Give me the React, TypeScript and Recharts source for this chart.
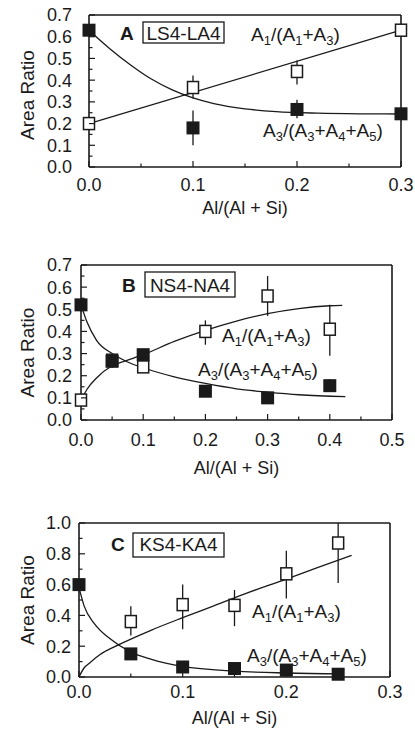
import React from 'react';
import { ComposedChart, Line, Scatter, XAxis, YAxis, ErrorBar } from 'recharts';

const FONT = '"Liberation Sans", Arial, Helvetica, sans-serif';
const INK = '#1a1a1a';

// ---- panel A: LS4-LA4 ----
const aX = [0, 0.1, 0.2, 0.3];
const aOpen = [0.2, 0.366, 0.44, 0.63];
const aOpenErr = [[0, 0], [0.05, 0.055], [0.06, 0.05], [0, 0]];
const aFilled = [0.63, 0.18, 0.265, 0.245];
const aFilledErr = [[0, 0], [0.08, 0.08], [0.04, 0.045], [0, 0]];
const aFitOpenX = [0, 0.3];
const aFitOpen = [0.2, 0.63];
const aFitFilledX = [0, 0.02, 0.04, 0.06, 0.08, 0.1, 0.12, 0.15, 0.18, 0.22, 0.26, 0.3];
const aFitFilled = [0.63, 0.545, 0.47, 0.405, 0.355, 0.318, 0.292, 0.268, 0.255, 0.248, 0.245, 0.244];

// ---- panel B: NS4-NA4 ----
const bX = [0, 0.05, 0.1, 0.2, 0.3, 0.4];
const bOpen = [0.09, 0.27, 0.24, 0.4, 0.56, 0.41];
const bOpenErr = [[0, 0], [0.02, 0.02], [0.02, 0.02], [0.06, 0.05], [0.09, 0.09], [0.12, 0.11]];
const bFilled = [0.52, 0.265, 0.295, 0.13, 0.1, 0.155];
const bFilledErr = [[0.03, 0.03], [0.03, 0.03], [0.02, 0.02], [0.02, 0.02], [0.01, 0.01], [0.02, 0.03]];
const bFitOpenX = [0, 0.01, 0.025, 0.05, 0.075, 0.1, 0.15, 0.2, 0.25, 0.3, 0.35, 0.4, 0.42];
const bFitOpen = [0.09, 0.14, 0.19, 0.245, 0.27, 0.295, 0.355, 0.405, 0.447, 0.48, 0.503, 0.516, 0.518];
const bFitFilledX = [0, 0.01, 0.025, 0.05, 0.075, 0.1, 0.15, 0.2, 0.25, 0.3, 0.35, 0.425];
const bFitFilled = [0.52, 0.44, 0.36, 0.3, 0.262, 0.236, 0.195, 0.165, 0.141, 0.126, 0.114, 0.106];

// ---- panel C: KS4-KA4 ----
const cX = [0.05, 0.1, 0.15, 0.2, 0.25];
const cOpen = [0.36, 0.47, 0.465, 0.67, 0.87];
const cOpenErr = [[0.09, 0.1], [0.16, 0.13], [0.135, 0.1], [0.16, 0.15], [0.26, 0.13]];
const cFilledX = [0, 0.05, 0.1, 0.15, 0.2, 0.25];
const cFilled = [0.6, 0.15, 0.065, 0.055, 0.045, 0.018];
const cFitOpenX = [0, 0.005, 0.01, 0.02, 0.04, 0.07, 0.1, 0.13, 0.16, 0.2, 0.23, 0.263];
const cFitOpen = [0, 0.06, 0.09, 0.145, 0.215, 0.305, 0.385, 0.462, 0.54, 0.636, 0.71, 0.79];
const cFitFilledX = [0, 0.005, 0.015, 0.03, 0.05, 0.07, 0.1, 0.15, 0.2, 0.255];
const cFitFilled = [0.58, 0.46, 0.345, 0.248, 0.162, 0.115, 0.069, 0.038, 0.026, 0.02];

// axis ticks
const xMajorA = [0, 0.1, 0.2, 0.3];
const xMinorA = [0.05, 0.15, 0.25];
const xMajorB = [0, 0.1, 0.2, 0.3, 0.4, 0.5];
const xMinorB = [0.05, 0.15, 0.25, 0.35, 0.45];
const yMajor07 = [0, 0.1, 0.2, 0.3, 0.4, 0.5, 0.6, 0.7];
const yMinor07 = [0.05, 0.15, 0.25, 0.35, 0.45, 0.55, 0.65];
const yMajor10 = [0, 0.2, 0.4, 0.6, 0.8, 1.0];
const yMinor10 = [0.1, 0.3, 0.5, 0.7, 0.9];

const pts = (xs: number[], ys: number[], errs?: number[][]) =>
  xs.map((x, i) => ({ x, y: ys[i], err: errs ? errs[i] : [0, 0] }));
const curve = (xs: number[], ys: number[]) => xs.map((x, i) => ({ x, y: ys[i] }));

const isMajor = (v: number, majors: number[]) => majors.some((m) => Math.abs(m - v) < 1e-6);

const FilledSquare = (props: any) => (
  <rect x={props.cx - 6.5} y={props.cy - 6.5} width={13} height={13} fill={INK} />
);
const OpenSquare = (props: any) => (
  <rect x={props.cx - 5.5} y={props.cy - 6} width={11} height={12} fill="#fff" stroke={INK} strokeWidth={1.5} />
);

// text like A1/(A1+A3): even parts normal, odd parts subscript
function Ratio({ x, y, parts }: { x: number; y: number; parts: string[] }) {
  return (
    <text x={x} y={y} fontSize={19} fontFamily={FONT} fill={INK}>
      {parts.map((s, i) =>
        i % 2 ? (
          <tspan key={i} dy={4} fontSize={13}>{s}</tspan>
        ) : (
          <tspan key={i} dy={i === 0 ? 0 : -4}>{s}</tspan>
        )
      )}
    </text>
  );
}

type PanelProps = {
  top: number;
  height: number;
  mTop: number;
  mRight: number;
  yWidth: number;
  xHeight: number;
  xGap: number;
  yGap: number;
  xDomain: number[];
  yDomain: number[];
  xMajor: number[];
  xMinor: number[];
  yMajor: number[];
  yMinor: number[];
  yLabelShift: number;
  xLabelBase: number;
  letter: string;
  letterX: number;
  tag: string;
  box: { x: number; y: number; w: number; h: number };
  baseY: number;
  r13: { x: number; y: number };
  r345: { x: number; y: number };
  open: any[];
  filled: any[];
  fitOpen: any[];
  fitFilled: any[];
};

function Panel(p: PanelProps) {
  const xTicks = [...p.xMajor, ...p.xMinor].sort((a, b) => a - b);
  const yTicks = [...p.yMajor, ...p.yMinor].sort((a, b) => a - b);
  const frame = { stroke: INK, strokeWidth: 1.6 };
  const txt = { fontSize: 18, fontFamily: FONT, fill: INK };

  const bottomTick = (t: any) => {
    const v = t.payload.value;
    const maj = isMajor(v, p.xMajor);
    const y0 = t.y - p.xGap;
    return (
      <g>
        <line x1={t.x} x2={t.x} y1={y0} y2={y0 - (maj ? 6 : 3.5)} stroke={INK} strokeWidth={1.2} />
        {maj && <text x={t.x} y={t.y} dy="0.71em" textAnchor="middle" {...txt}>{v.toFixed(1)}</text>}
      </g>
    );
  };
  const leftTick = (t: any) => {
    const v = t.payload.value;
    const maj = isMajor(v, p.yMajor);
    const x0 = t.x + p.yGap;
    return (
      <g>
        <line x1={x0} x2={x0 + (maj ? 6 : 3.5)} y1={t.y} y2={t.y} stroke={INK} strokeWidth={1.2} />
        {maj && <text x={t.x} y={t.y} dy="0.355em" textAnchor="end" {...txt}>{v.toFixed(1)}</text>}
      </g>
    );
  };
  const topTick = (t: any) => {
    const maj = isMajor(t.payload.value, p.xMajor);
    return <line x1={t.x} x2={t.x} y1={t.y} y2={t.y + (maj ? 6 : 3.5)} stroke={INK} strokeWidth={1.2} />;
  };
  const rightTick = (t: any) => {
    const maj = isMajor(t.payload.value, p.yMajor);
    return <line x1={t.x} x2={t.x - (maj ? 6 : 3.5)} y1={t.y} y2={t.y} stroke={INK} strokeWidth={1.2} />;
  };

  return (
    <div style={{ position: 'absolute', left: 0, top: p.top }}>
      <ComposedChart width={415} height={p.height} margin={{ top: p.mTop, right: p.mRight, bottom: 0, left: 0 }}>
        <XAxis
          type="number"
          dataKey="x"
          domain={p.xDomain}
          ticks={xTicks}
          interval={0}
          tickSize={0}
          tickMargin={p.xGap}
          tickLine={false}
          axisLine={frame}
          height={p.xHeight}
          tick={bottomTick}
          label={(lp: any) => {
            const vb = lp.viewBox;
            return (
              <text x={vb.x + vb.width / 2} y={vb.y + p.xLabelBase} textAnchor="middle" {...txt}>
                Al/(Al + Si)
              </text>
            );
          }}
        />
        <YAxis
          type="number"
          dataKey="y"
          domain={p.yDomain}
          ticks={yTicks}
          interval={0}
          tickSize={0}
          tickMargin={p.yGap}
          tickLine={false}
          axisLine={frame}
          width={p.yWidth}
          tick={leftTick}
          label={(lp: any) => {
            const vb = lp.viewBox;
            const cy = vb.y + vb.height / 2 + p.yLabelShift;
            return (
              <text
                x={27}
                y={cy}
                transform={`rotate(-90, 27, ${cy})`}
                textAnchor="middle"
                dominantBaseline="central"
                {...txt}
                fontSize={19}
              >
                Area Ratio
              </text>
            );
          }}
        />
        <XAxis
          xAxisId="top"
          orientation="top"
          type="number"
          domain={p.xDomain}
          ticks={xTicks}
          interval={0}
          tickSize={0}
          tickMargin={0}
          tickLine={false}
          axisLine={frame}
          height={1}
          tick={topTick}
        />
        <YAxis
          yAxisId="right"
          orientation="right"
          type="number"
          domain={p.yDomain}
          ticks={yTicks}
          interval={0}
          tickSize={0}
          tickMargin={0}
          tickLine={false}
          axisLine={frame}
          width={1}
          tick={rightTick}
        />
        <Scatter data={p.open} shape={OpenSquare} isAnimationActive={false}>
          <ErrorBar dataKey="err" direction="y" width={0} stroke={INK} strokeWidth={1.3} />
        </Scatter>
        <Line data={p.fitOpen} dataKey="y" type="monotone" stroke={INK} strokeWidth={1.3} dot={false} isAnimationActive={false} />
        <Line data={p.fitFilled} dataKey="y" type="monotone" stroke={INK} strokeWidth={1.3} dot={false} isAnimationActive={false} />
        <Scatter data={p.filled} shape={FilledSquare} isAnimationActive={false}>
          <ErrorBar dataKey="err" direction="y" width={0} stroke={INK} strokeWidth={1.3} />
        </Scatter>
        <text x={p.letterX} y={p.baseY} fontSize={19} fontWeight="bold" fontFamily={FONT} fill={INK}>
          {p.letter}
        </text>
        <rect x={p.box.x} y={p.box.y} width={p.box.w} height={p.box.h} fill="none" stroke={INK} strokeWidth={1.3} />
        <text x={p.box.x + p.box.w / 2} y={p.baseY} textAnchor="middle" fontSize={19} fontFamily={FONT} fill={INK}>
          {p.tag}
        </text>
        <Ratio x={p.r13.x} y={p.r13.y} parts={['A', '1', '/(A', '1', '+A', '3', ')']} />
        <Ratio x={p.r345.x} y={p.r345.y} parts={['A', '3', '/(A', '3', '+A', '4', '+A', '5', ')']} />
      </ComposedChart>
    </div>
  );
}

export default function App() {
  return (
    <div style={{ position: 'absolute', left: 0, top: 0, width: 415, height: 729, background: '#fff' }}>
      <Panel
        top={0}
        height={230}
        mTop={14}
        mRight={13}
        yWidth={89}
        xHeight={63}
        xGap={11}
        yGap={17}
        xDomain={[0, 0.3]}
        yDomain={[0, 0.7]}
        xMajor={xMajorA}
        xMinor={xMinorA}
        yMajor={yMajor07}
        yMinor={yMinor07}
        yLabelShift={4}
        xLabelBase={47}
        letter="A"
        letterX={120}
        tag="LS4-LA4"
        box={{ x: 143, y: 22, w: 81, h: 21 }}
        baseY={40}
        r13={{ x: 251, y: 41 }}
        r345={{ x: 263, y: 137 }}
        open={pts(aX, aOpen, aOpenErr)}
        filled={pts(aX, aFilled, aFilledErr)}
        fitOpen={curve(aFitOpenX, aFitOpen)}
        fitFilled={curve(aFitFilledX, aFitFilled)}
      />
      <Panel
        top={240}
        height={240}
        mTop={24}
        mRight={22}
        yWidth={81}
        xHeight={60}
        xGap={13}
        yGap={9}
        xDomain={[0, 0.5]}
        yDomain={[0, 0.7]}
        xMajor={xMajorB}
        xMinor={xMinorB}
        yMajor={yMajor07}
        yMinor={yMinor07}
        yLabelShift={10}
        xLabelBase={54}
        letter="B"
        letterX={122}
        tag="NS4-NA4"
        box={{ x: 145, y: 32, w: 90, h: 25 }}
        baseY={52}
        r13={{ x: 222, y: 102 }}
        r345={{ x: 198, y: 136 }}
        open={pts(bX, bOpen, bOpenErr)}
        filled={pts(bX, bFilled, bFilledErr)}
        fitOpen={curve(bFitOpenX, bFitOpen)}
        fitFilled={curve(bFitFilledX, bFitFilled)}
      />
      <Panel
        top={490}
        height={239}
        mTop={32}
        mRight={24}
        yWidth={79}
        xHeight={52}
        xGap={8}
        yGap={8}
        xDomain={[0, 0.3]}
        yDomain={[0, 1.0]}
        xMajor={xMajorA}
        xMinor={xMinorA}
        yMajor={yMajor10}
        yMinor={yMinor10}
        yLabelShift={0}
        xLabelBase={47}
        letter="C"
        letterX={111}
        tag="KS4-KA4"
        box={{ x: 133, y: 43, w: 91, h: 24 }}
        baseY={61}
        r13={{ x: 252, y: 128 }}
        r345={{ x: 247, y: 172 }}
        open={pts(cX, cOpen, cOpenErr)}
        filled={pts(cFilledX, cFilled)}
        fitOpen={curve(cFitOpenX, cFitOpen)}
        fitFilled={curve(cFitFilledX, cFitFilled)}
      />
    </div>
  );
}
